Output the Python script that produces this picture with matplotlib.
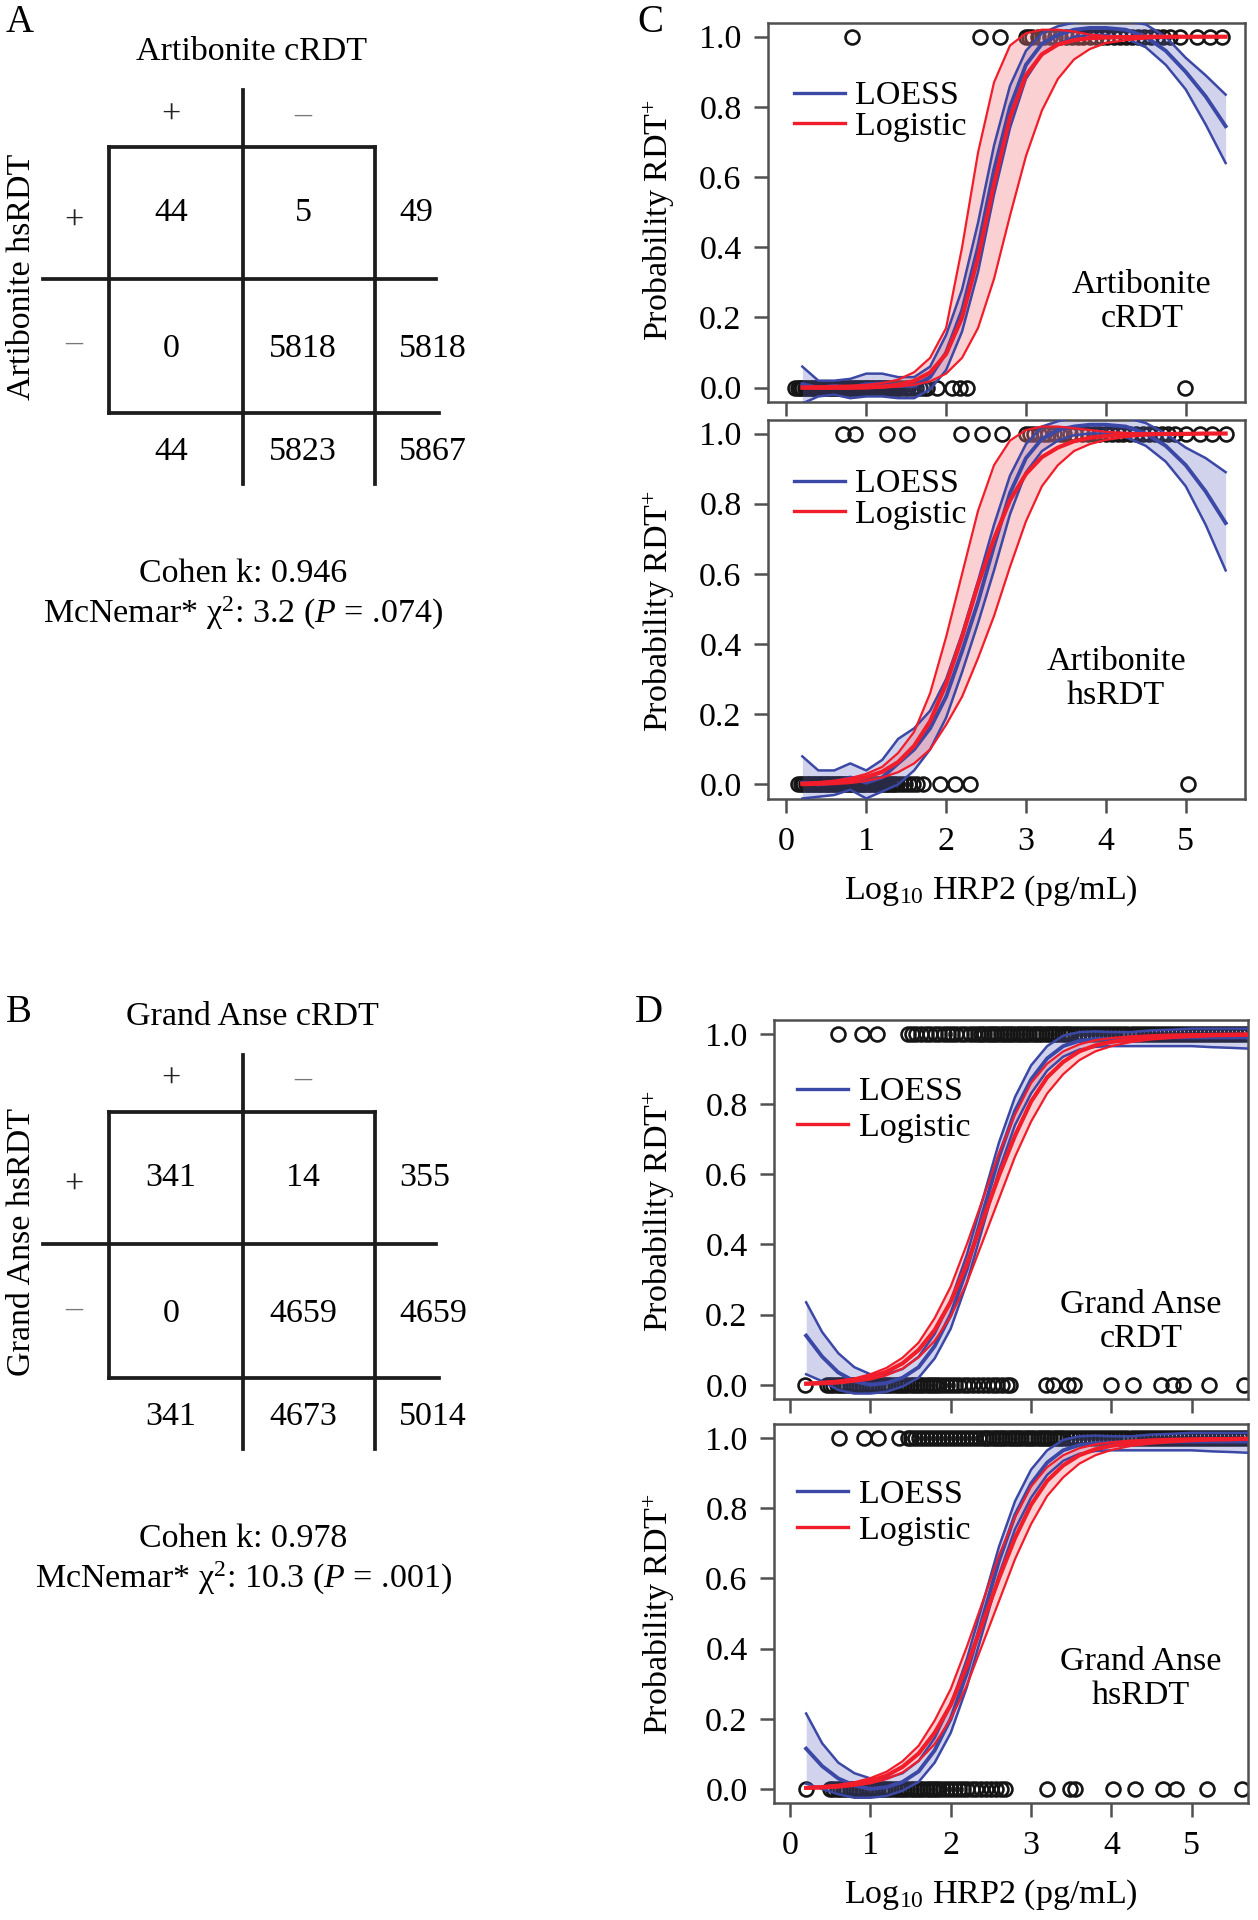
import matplotlib
matplotlib.use('Agg')
import matplotlib.pyplot as plt
from matplotlib.lines import Line2D

plt.rcParams['font.family'] = ['Liberation Serif', 'DejaVu Serif']
plt.rcParams['mathtext.fontset'] = 'custom'
plt.rcParams['mathtext.rm'] = 'Liberation Serif'
plt.rcParams['mathtext.it'] = 'Liberation Serif:italic'
plt.rcParams['mathtext.bf'] = 'Liberation Serif:bold'

# ---------------- contingency tables ----------------
A_title = 'Artibonite cRDT'
A_ylabel = 'Artibonite hsRDT'
A_cells = [[44, 5], [0, 5818]]
A_row_tot = [49, 5818]
A_col_tot = [44, 5823]
A_total = 5867
A_kappa = '0.946'
A_chi2 = '3.2'
A_p = '.074'

B_title = 'Grand Anse cRDT'
B_ylabel = 'Grand Anse hsRDT'
B_cells = [[341, 14], [0, 4659]]
B_row_tot = [355, 4659]
B_col_tot = [341, 4673]
B_total = 5014
B_kappa = '0.978'
B_chi2 = '10.3'
B_p = '.001'

sign_labels = ['+', '–']

# ---------------- curves: panel C ----------------
xs_C = [0.2, 0.4, 0.6, 0.8, 1.0, 1.2, 1.4, 1.6, 1.8, 2.0, 2.2, 2.4, 2.6, 2.8, 3.0,
        3.2, 3.4, 3.6, 3.8, 4.0, 4.25, 4.5, 4.75, 5.0, 5.25, 5.5]

C1_log_mean = [0.000, 0.000, 0.000, 0.001, 0.001, 0.003, 0.008, 0.019, 0.043, 0.096, 0.20, 0.37, 0.58,
               0.77, 0.89, 0.95, 0.978, 0.99, 0.996, 0.998, 0.999, 1.0, 1.0, 1.0, 1.0, 1.0]
C1_log_up = [0.003, 0.004, 0.005, 0.006, 0.008, 0.013, 0.023, 0.044, 0.085, 0.17, 0.40, 0.67, 0.87,
             0.975, 1.01, 1.02, 1.02, 1.015, 1.006, 1.002, 1.0, 1.0, 1.0, 1.0, 1.0, 1.0]
C1_log_lo = [-0.002, -0.003, -0.003, -0.003, -0.002, 0.0, 0.003, 0.008, 0.018, 0.04, 0.085, 0.17, 0.31,
             0.49, 0.66, 0.79, 0.88, 0.935, 0.965, 0.982, 0.99, 0.995, 0.998, 0.999, 1.0, 1.0]
C1_lo_mean = [0.01, 0.0, 0.005, 0.0, 0.01, 0.012, 0.005, 0.005, 0.03, 0.10, 0.22, 0.40, 0.62,
              0.80, 0.92, 0.98, 1.005, 1.02, 1.025, 1.025, 1.02, 1.0, 0.96, 0.90, 0.83, 0.745]
C1_lo_up = [0.06, 0.02, 0.02, 0.025, 0.04, 0.04, 0.03, 0.03, 0.06, 0.15, 0.28, 0.47, 0.69,
            0.86, 0.96, 1.01, 1.03, 1.04, 1.045, 1.045, 1.045, 1.035, 1.0, 0.94, 0.89, 0.835]
C1_lo_lo = [-0.045, -0.025, -0.02, -0.03, -0.025, -0.025, -0.03, -0.03, -0.005, 0.05, 0.16, 0.33, 0.55,
            0.74, 0.88, 0.95, 0.98, 1.0, 1.005, 1.005, 0.995, 0.97, 0.92, 0.85, 0.75, 0.64]

C2_log_mean = [0.002, 0.004, 0.006, 0.011, 0.021, 0.036, 0.064, 0.11, 0.18, 0.286, 0.42, 0.57, 0.70,
               0.81, 0.885, 0.933, 0.96, 0.978, 0.988, 0.993, 0.997, 0.998, 0.999, 0.999, 1.0, 1.0]
C2_log_up = [0.004, 0.006, 0.011, 0.018, 0.03, 0.05, 0.09, 0.15, 0.26, 0.42, 0.60, 0.78, 0.91,
             0.98, 1.01, 1.02, 1.02, 1.015, 1.01, 1.005, 1.002, 1.0, 1.0, 1.0, 1.0, 1.0]
C2_log_lo = [-0.002, -0.001, 0.001, 0.004, 0.01, 0.02, 0.035, 0.06, 0.10, 0.17, 0.25, 0.36, 0.48,
             0.62, 0.75, 0.85, 0.91, 0.95, 0.97, 0.982, 0.99, 0.995, 0.997, 0.998, 0.999, 1.0]
C2_lo_mean = [0.005, 0.0, 0.005, 0.02, 0.005, 0.02, 0.06, 0.10, 0.16, 0.25, 0.38, 0.52, 0.68,
              0.83, 0.93, 0.985, 1.01, 1.02, 1.025, 1.025, 1.02, 1.0, 0.965, 0.91, 0.835, 0.745]
C2_lo_up = [0.08, 0.04, 0.04, 0.06, 0.04, 0.07, 0.13, 0.16, 0.21, 0.30, 0.43, 0.58, 0.74,
            0.88, 0.97, 1.02, 1.035, 1.045, 1.05, 1.05, 1.045, 1.03, 1.0, 0.96, 0.93, 0.89]
C2_lo_lo = [-0.04, -0.035, -0.03, -0.015, -0.04, -0.02, 0.0, 0.04, 0.10, 0.19, 0.32, 0.46, 0.61,
            0.77, 0.89, 0.95, 0.98, 0.995, 1.0, 1.0, 0.99, 0.965, 0.92, 0.85, 0.74, 0.61]

# ---------------- curves: panel D ----------------
xs_D = [0.2, 0.4, 0.6, 0.8, 1.0, 1.2, 1.4, 1.6, 1.8, 2.0, 2.2, 2.4, 2.6, 2.8, 3.0,
        3.2, 3.4, 3.6, 3.8, 4.0, 4.25, 4.5, 4.75, 5.0, 5.25, 5.5, 5.7]

D1_log_mean = [0.003, 0.005, 0.008, 0.0135, 0.0225, 0.037, 0.061, 0.099, 0.156, 0.237, 0.343, 0.47, 0.596,
               0.71, 0.807, 0.876, 0.92, 0.95, 0.967, 0.977, 0.985, 0.99, 0.993, 0.995, 0.997, 0.997, 0.998]
D1_log_up = [0.005, 0.008, 0.012, 0.018, 0.03, 0.048, 0.077, 0.12, 0.19, 0.28, 0.40, 0.53, 0.66,
             0.77, 0.86, 0.915, 0.95, 0.97, 0.982, 0.988, 0.993, 0.996, 0.998, 0.999, 0.999, 1.0, 1.0]
D1_log_lo = [0.001, 0.002, 0.004, 0.009, 0.015, 0.027, 0.046, 0.078, 0.125, 0.195, 0.29, 0.41, 0.53,
             0.65, 0.75, 0.83, 0.885, 0.925, 0.95, 0.965, 0.977, 0.984, 0.988, 0.991, 0.993, 0.994, 0.995]
D1_lo_mean = [0.14, 0.08, 0.035, 0.01, 0.0, 0.005, 0.02, 0.05, 0.11, 0.20, 0.33, 0.49, 0.65,
              0.78, 0.87, 0.93, 0.965, 0.98, 0.985, 0.985, 0.985, 0.988, 0.99, 0.99, 0.99, 0.99, 0.99]
D1_lo_up = [0.235, 0.15, 0.09, 0.05, 0.03, 0.03, 0.045, 0.08, 0.145, 0.24, 0.37, 0.53, 0.69,
            0.82, 0.91, 0.965, 0.995, 1.005, 1.007, 1.005, 1.005, 1.01, 1.012, 1.015, 1.015, 1.015, 1.015]
D1_lo_lo = [0.03, 0.01, -0.015, -0.025, -0.025, -0.02, -0.005, 0.02, 0.075, 0.16, 0.29, 0.45, 0.61,
            0.74, 0.83, 0.895, 0.935, 0.955, 0.963, 0.965, 0.965, 0.965, 0.965, 0.965, 0.962, 0.96, 0.958]

D2_log_mean = [0.003, 0.005, 0.008, 0.014, 0.023, 0.038, 0.063, 0.101, 0.16, 0.24, 0.35, 0.475, 0.60,
               0.715, 0.81, 0.878, 0.922, 0.951, 0.968, 0.978, 0.986, 0.99, 0.993, 0.995, 0.997, 0.997, 0.998]
D2_log_up = [0.005, 0.008, 0.012, 0.019, 0.031, 0.049, 0.079, 0.123, 0.195, 0.285, 0.405, 0.535, 0.665,
             0.775, 0.862, 0.917, 0.951, 0.971, 0.982, 0.988, 0.993, 0.996, 0.998, 0.999, 0.999, 1.0, 1.0]
D2_log_lo = [0.001, 0.002, 0.004, 0.009, 0.016, 0.028, 0.047, 0.08, 0.128, 0.2, 0.295, 0.415, 0.535,
             0.655, 0.755, 0.835, 0.888, 0.927, 0.951, 0.966, 0.978, 0.984, 0.988, 0.991, 0.993, 0.994, 0.995]
D2_lo_mean = [0.115, 0.065, 0.03, 0.01, 0.0, 0.005, 0.02, 0.05, 0.11, 0.20, 0.33, 0.49, 0.65,
              0.78, 0.87, 0.93, 0.965, 0.98, 0.985, 0.987, 0.987, 0.988, 0.99, 0.99, 0.99, 0.99, 0.99]
D2_lo_up = [0.215, 0.13, 0.075, 0.045, 0.03, 0.03, 0.045, 0.08, 0.145, 0.24, 0.37, 0.53, 0.69,
            0.82, 0.91, 0.965, 0.995, 1.005, 1.007, 1.005, 1.005, 1.01, 1.012, 1.015, 1.015, 1.015, 1.015]
D2_lo_lo = [0.015, 0.0, -0.015, -0.025, -0.025, -0.02, -0.005, 0.02, 0.075, 0.16, 0.29, 0.45, 0.61,
            0.74, 0.83, 0.895, 0.935, 0.955, 0.963, 0.965, 0.965, 0.965, 0.965, 0.965, 0.962, 0.96, 0.958]

# ---------------- observed points (log10 HRP2) ----------------
C1_pos = [0.82, 2.42, 2.67, 3.00, 3.04, 3.08, 3.15, 3.22, 3.30, 3.36, 3.42, 3.50, 3.58, 3.65, 3.72,
          3.80, 3.88, 3.95, 4.02, 4.10, 4.18, 4.25, 4.33, 4.40, 4.48, 4.56, 4.64, 4.72, 4.80, 4.93,
          5.14, 5.30, 5.45]
C1_neg = [0.11, 0.14, 0.17, 0.20, 0.23, 0.26, 0.29, 0.32, 0.35, 0.38, 0.41, 0.44, 0.47, 0.50, 0.53,
          0.56, 0.59, 0.62, 0.65, 0.68, 0.71, 0.74, 0.77, 0.80, 0.83, 0.86, 0.89, 0.92, 0.95, 0.98,
          1.01, 1.04, 1.07, 1.10, 1.13, 1.16, 1.19, 1.22, 1.25, 1.28, 1.31, 1.34, 1.37, 1.40, 1.44,
          1.48, 1.52, 1.57, 1.62, 1.67, 1.72, 1.76, 1.88, 2.07, 2.17, 2.26, 4.99]
C2_pos = [0.71, 0.86, 1.26, 1.51, 2.19, 2.45, 2.70, 3.00, 3.05, 3.10, 3.16, 3.22, 3.28, 3.35, 3.42,
          3.48, 3.55, 3.62, 3.70, 3.78, 3.85, 3.92, 4.00, 4.08, 4.15, 4.22, 4.30, 4.38, 4.46, 4.54,
          4.62, 4.70, 4.78, 4.86, 5.01, 5.18, 5.33, 5.51]
C2_neg = [0.15, 0.18, 0.21, 0.24, 0.27, 0.30, 0.33, 0.36, 0.39, 0.42, 0.45, 0.48, 0.51, 0.54, 0.57,
          0.60, 0.63, 0.66, 0.69, 0.72, 0.75, 0.78, 0.81, 0.84, 0.87, 0.90, 0.93, 0.96, 0.99, 1.02,
          1.05, 1.08, 1.11, 1.14, 1.17, 1.20, 1.23, 1.26, 1.29, 1.32, 1.35, 1.39, 1.43, 1.48, 1.53,
          1.58, 1.64, 1.71, 1.92, 2.11, 2.30, 5.03]
D1_pos = [0.60, 0.89, 1.08, 1.47, 1.52, 1.57, 1.63, 1.69, 1.74, 1.80, 1.85, 1.91, 1.96, 2.02, 2.07,
          2.13, 2.18, 2.24, 2.29, 2.34, 2.38, 2.42, 2.46, 2.50, 2.54, 2.58, 2.62, 2.66, 2.70, 2.74,
          2.78, 2.82, 2.86, 2.90, 2.94, 2.98, 3.02, 3.06, 3.10, 3.14, 3.18, 3.22, 3.26, 3.30, 3.34,
          3.38, 3.42, 3.46, 3.50, 3.55, 3.60, 3.65, 3.70, 3.75, 3.80, 3.85, 3.90, 3.95, 4.00, 4.05,
          4.10, 4.15, 4.20, 4.25, 4.30, 4.35, 4.40, 4.45, 4.50, 4.55, 4.60, 4.65, 4.70, 4.75, 4.80,
          4.85, 4.90, 4.95, 5.00, 5.05, 5.10, 5.15, 5.20, 5.25, 5.30, 5.35, 5.40, 5.45, 5.50, 5.55,
          5.60, 5.65, 5.70]
D1_neg = [0.19, 0.46, 0.50, 0.54, 0.58, 0.62, 0.66, 0.70, 0.74, 0.78, 0.82, 0.86, 0.90, 0.94, 0.98,
          1.02, 1.06, 1.10, 1.14, 1.18, 1.22, 1.26, 1.30, 1.34, 1.38, 1.42, 1.46, 1.50, 1.54, 1.58,
          1.62, 1.66, 1.70, 1.74, 1.78, 1.82, 1.86, 1.90, 1.95, 2.00, 2.05, 2.10, 2.16, 2.22, 2.28,
          2.34, 2.40, 2.46, 2.52, 2.58, 2.64, 2.70, 2.74, 3.19, 3.27, 3.46, 3.54, 4.00, 4.27, 4.62,
          4.77, 4.89, 5.21, 5.65]
D2_pos = [0.61, 0.92, 1.09, 1.36, 1.47, 1.51, 1.55, 1.60, 1.65, 1.70, 1.75, 1.80, 1.85, 1.90, 1.95,
          2.00, 2.05, 2.10, 2.15, 2.20, 2.25, 2.30, 2.35, 2.40, 2.44, 2.48, 2.52, 2.56, 2.60, 2.64,
          2.68, 2.72, 2.76, 2.80, 2.84, 2.88, 2.92, 2.96, 3.00, 3.04, 3.08, 3.12, 3.16, 3.20, 3.24,
          3.28, 3.32, 3.36, 3.40, 3.45, 3.50, 3.55, 3.60, 3.65, 3.70, 3.75, 3.80, 3.85, 3.90, 3.95,
          4.00, 4.05, 4.10, 4.15, 4.20, 4.25, 4.30, 4.35, 4.40, 4.45, 4.50, 4.55, 4.60, 4.65, 4.70,
          4.75, 4.80, 4.85, 4.90, 4.95, 5.00, 5.05, 5.10, 5.15, 5.20, 5.25, 5.30, 5.35, 5.40, 5.45,
          5.50, 5.55, 5.60, 5.65, 5.70]
D2_neg = [0.20, 0.50, 0.54, 0.58, 0.62, 0.66, 0.70, 0.74, 0.78, 0.82, 0.86, 0.90, 0.94, 0.98, 1.02,
          1.06, 1.10, 1.14, 1.18, 1.22, 1.26, 1.30, 1.34, 1.38, 1.42, 1.46, 1.50, 1.54, 1.58, 1.62,
          1.66, 1.70, 1.74, 1.78, 1.82, 1.86, 1.90, 1.95, 2.00, 2.05, 2.10, 2.15, 2.20, 2.26, 2.32,
          2.38, 2.44, 2.50, 2.56, 2.62, 2.68, 3.20, 3.48, 3.55, 4.02, 4.29, 4.64, 4.80, 5.19, 5.63]

x_ticks = [0, 1, 2, 3, 4, 5]
x_ticklabels = ['0', '1', '2', '3', '4', '5']
y_ticks = [0.0, 0.2, 0.4, 0.6, 0.8, 1.0]
y_ticklabels = ['0.0', '0.2', '0.4', '0.6', '0.8', '1.0']
legend_labels = ['LOESS', 'Logistic']

# ---------------- figure ----------------
W, H = 1258, 1920
fig = plt.figure(figsize=(W / 100, H / 100), dpi=100)
FS = 24.5
BLUE = '#3b48a5'
RED = '#f21d2a'
BLUE_FILL = '#5a64c0'
RED_FILL = '#f47a80'
FRAME = '#505050'

tab = fig.add_axes([0, 0, 1, 1])
tab.set_xlim(0, W)
tab.set_ylim(H, 0)
tab.axis('off')


def draw_table(oy, title, ylabel, cells, row_tot, col_tot, total, kappa, chi2, pval):
    c = '#1c1c1c'
    lw = 2.7
    segs = [((242.5, 242.5), (89.5, 484)), ((109, 109), (147, 413)), ((375, 375), (147, 484)),
            ((109, 375), (147, 147)), ((43, 436), (278.5, 278.5)), ((109, 439), (413, 413))]
    for xx, yy in segs:
        tab.plot(xx, [v + oy for v in yy], color=c, lw=lw, solid_capstyle='projecting')
    tab.text(252, 52 + oy, title, ha='center', va='center', fontsize=FS)
    col_x = [171, 303]
    row_y = [213, 349]
    for j, s in enumerate(sign_labels):
        tab.text(col_x[j], 115 + oy, s, ha='center', va='center', fontsize=FS,
                 color='#222' if j == 0 else '#777')
    for i, s in enumerate(sign_labels):
        tab.text(74, [221, 344][i] + oy, s, ha='center', va='center', fontsize=FS,
                 color='#222' if i == 0 else '#777')
    for i in range(2):
        for j in range(2):
            tab.text(col_x[j], row_y[i] + oy, str(cells[i][j]), ha='center', va='center', fontsize=FS)
        tab.text(399, row_y[i] + oy, str(row_tot[i]), ha='left', va='center', fontsize=FS)
    for j in range(2):
        tab.text(col_x[j], 452 + oy, str(col_tot[j]), ha='center', va='center', fontsize=FS)
    tab.text(399, 452 + oy, str(total), ha='left', va='center', fontsize=FS)
    tab.text(22, 277 + oy, ylabel, rotation=90, ha='center', va='center', fontsize=FS)
    tab.text(243, 574 + oy, 'Cohen k: ' + kappa, ha='center', va='center', fontsize=FS)
    tab.text(243, 613 + oy, 'McNemar* χ$^{2}$: ' + chi2 + ' ($P$ = ' + pval + ')',
             ha='center', va='center', fontsize=FS)


draw_table(0, A_title, A_ylabel, A_cells, A_row_tot, A_col_tot, A_total, A_kappa, A_chi2, A_p)
draw_table(965, B_title, B_ylabel, B_cells, B_row_tot, B_col_tot, B_total, B_kappa, B_chi2, B_p)

for letter, (lx, ly) in zip(['A', 'B', 'C', 'D'], [(6, 22), (6, 1012), (637, 22), (635, 1012)]):
    tab.text(lx, ly, letter, ha='left', va='center', fontsize=28)


def make_panel(rect, xlim, xs, lo_mean, lo_up, lo_lo, lg_mean, lg_up, lg_lo, pos, neg,
               show_xlabels, note, note_xy, leg_anchor, leg_space, ylab_y, ylab_x, xlab_x):
    ax = fig.add_axes(rect)
    ax.set_xlim(*xlim)
    ax.set_ylim(-0.04, 1.04)
    ax.plot(pos, [1.0] * len(pos), linestyle='none', marker='o', ms=10, mfc='none',
            mec='#151515', mew=1.9, zorder=1)
    ax.plot(neg, [0.0] * len(neg), linestyle='none', marker='o', ms=10, mfc='none',
            mec='#151515', mew=1.9, zorder=1)
    ax.fill_between(xs, lo_lo, lo_up, color=BLUE_FILL, alpha=0.28, lw=0, zorder=2)
    ax.fill_between(xs, lg_lo, lg_up, color=RED_FILL, alpha=0.35, lw=0, zorder=2)
    for arr in (lo_up, lo_lo):
        ax.plot(xs, arr, color=BLUE, lw=1.8, zorder=3)
    ax.plot(xs, lo_mean, color=BLUE, lw=2.8, zorder=3)
    for arr in (lg_up, lg_lo):
        ax.plot(xs, arr, color=RED, lw=1.6, zorder=4)
    ax.plot(xs, lg_mean, color=RED, lw=3.0, zorder=4)
    for sp in ax.spines.values():
        sp.set_color(FRAME)
        sp.set_linewidth(1.8)
    ax.set_xticks(x_ticks)
    ax.set_yticks(y_ticks)
    ax.set_yticklabels(y_ticklabels)
    if show_xlabels:
        ax.set_xticklabels(x_ticklabels)
    else:
        ax.set_xticklabels([])
    ax.tick_params(axis='both', direction='out', length=10, width=1.8, color=FRAME,
                   labelsize=FS)
    ax.tick_params(axis='y', pad=9)
    ax.tick_params(axis='x', pad=10)
    ax.text(note_xy[0], note_xy[1], note, ha='center', va='center', fontsize=FS,
            multialignment='center', linespacing=1.15)
    handles = [Line2D([], [], color=BLUE, lw=2.4), Line2D([], [], color=RED, lw=2.4)]
    ax.legend(handles, legend_labels, loc='upper left', bbox_to_anchor=leg_anchor,
              bbox_transform=ax.transData, frameon=False, borderpad=0, borderaxespad=0,
              handlelength=1.5, handletextpad=0.3, labelspacing=leg_space, fontsize=FS)
    ax.text(ylab_x, ylab_y, 'Probability RDT$^{+}$', rotation=90, ha='center', va='center',
            fontsize=FS, transform=ax.transAxes)
    if show_xlabels:
        ax.text(xlab_x, -0.243, 'Log$_{10}$ HRP2 (pg/mL)', ha='center', va='center',
                fontsize=FS, transform=ax.transAxes)
    return ax


hC = 379 / H
wC = 476.8 / W
wD = 474 / W
make_panel([768 / W, 1 - 401.7 / H, wC, hC], (-0.23, 5.74), xs_C,
           C1_lo_mean, C1_lo_up, C1_lo_lo, C1_log_mean, C1_log_up, C1_log_lo, C1_pos, C1_neg,
           False, 'Artibonite\ncRDT', (4.45, 0.245), (0.09, 0.875), 0.0, 0.48, -0.228, 0.468)
make_panel([768 / W, 1 - 798.5 / H, wC, hC], (-0.23, 5.74), xs_C,
           C2_lo_mean, C2_lo_up, C2_lo_lo, C2_log_mean, C2_log_up, C2_log_lo, C2_pos, C2_neg,
           True, 'Artibonite\nhsRDT', (4.13, 0.30), (0.09, 0.90), 0.0, 0.495, -0.228, 0.468)
make_panel([774 / W, 1 - 1398.8 / H, wD, hC], (-0.2, 5.70), xs_D,
           D1_lo_mean, D1_lo_up, D1_lo_lo, D1_log_mean, D1_log_up, D1_log_lo, D1_pos, D1_neg,
           False, 'Grand Anse\ncRDT', (4.37, 0.18), (0.09, 0.878), 0.13, 0.495, -0.242, 0.458)
make_panel([774 / W, 1 - 1803 / H, wD, hC], (-0.2, 5.70), xs_D,
           D2_lo_mean, D2_lo_up, D2_lo_lo, D2_log_mean, D2_log_up, D2_log_lo, D2_pos, D2_neg,
           True, 'Grand Anse\nhsRDT', (4.37, 0.315), (0.09, 0.882), 0.13, 0.50, -0.242, 0.458)

fig.savefig('out.png', dpi=100)
